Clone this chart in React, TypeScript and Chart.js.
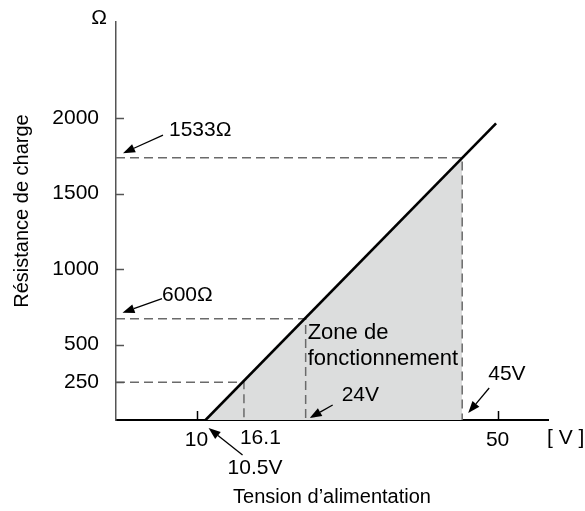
import React, { useEffect, useRef } from "react";
import { Chart, registerables } from "chart.js";

Chart.register(...registerables);

// ---- data ----
const xTickValues = [10, 50];
const yTickValues = [250, 500, 1000, 1500, 2000];
const xRange = [-0.7, 56.7];
const yRange = [0, 2637];
const lineVoltage = [11.2, 49.8];
const lineResistance = [0, 1965];
const markerVoltage = [16.3, 24.5, 45.3];
const markerResistance = [250, 671, 1738];
const voltageLabels = ["10.5V", "16.1", "24V", "45V"];
const resistanceLabels = ["600Ω", "1533Ω"];
const zoneLabel = ["Zone de", "fonctionnement"];
const xTitle = "Tension d’alimentation";
const yTitle = "Résistance de charge";
const xUnit = "[ V ]";
const yUnit = "Ω";

const FONT_FAMILY = '"Liberation Sans", Arial, Helvetica, sans-serif';
const FONT_SIZE = 21;

function drawArrow(ctx: CanvasRenderingContext2D, x1: number, y1: number, x2: number, y2: number) {
  const ang = Math.atan2(y2 - y1, x2 - x1);
  const head = 12;
  const half = 4.5;
  const bx = x2 - head * Math.cos(ang);
  const by = y2 - head * Math.sin(ang);
  ctx.beginPath();
  ctx.moveTo(x1, y1);
  ctx.lineTo(bx, by);
  ctx.lineWidth = 1.3;
  ctx.strokeStyle = "#000";
  ctx.stroke();
  ctx.beginPath();
  ctx.moveTo(x2, y2);
  ctx.lineTo(bx + half * Math.sin(ang), by - half * Math.cos(ang));
  ctx.lineTo(bx - half * Math.sin(ang), by + half * Math.cos(ang));
  ctx.closePath();
  ctx.fillStyle = "#000";
  ctx.fill();
}

const annotationPlugin = {
  id: "annotations",
  afterDraw(chart: any) {
    const { ctx, chartArea } = chart;
    const x = chart.scales.x;
    const y = chart.scales.y;
    const L = chartArea.left;
    const B = chartArea.bottom;
    ctx.save();
    // inward tick marks
    ctx.lineWidth = 1.5;
    ctx.strokeStyle = "#555";
    y.ticks.forEach((t: any) => {
      const py = Math.round(y.getPixelForValue(t.value)) + 0.5;
      ctx.beginPath();
      ctx.moveTo(L, py);
      ctx.lineTo(L + 8, py);
      ctx.stroke();
    });
    ctx.strokeStyle = "#000";
    x.ticks.forEach((t: any) => {
      const px = Math.round(x.getPixelForValue(t.value)) + 0.5;
      ctx.beginPath();
      ctx.moveTo(px, B);
      ctx.lineTo(px, B - 9);
      ctx.stroke();
    });

    ctx.font = `${FONT_SIZE}px ${FONT_FAMILY}`;
    ctx.fillStyle = "#000";
    ctx.textBaseline = "middle";
    ctx.textAlign = "left";

    // resistance annotations
    const y600 = y.getPixelForValue(markerResistance[1]);
    drawArrow(ctx, L + 46, y600 - 20, L + 6.5, y600 - 6);
    ctx.fillText(resistanceLabels[0], L + 46, y600 - 24);

    const y1533 = y.getPixelForValue(markerResistance[2]);
    drawArrow(ctx, L + 47, y1533 - 22.5, L + 7, y1533 - 4.5);
    ctx.fillText(resistanceLabels[1], L + 53, y1533 - 27.5);

    // voltage annotations
    const xs = x.getPixelForValue(lineVoltage[0]);
    drawArrow(ctx, xs + 37, B + 35, xs + 3, B + 8);
    ctx.fillText(voltageLabels[0], xs + 22, B + 48);

    const x16 = x.getPixelForValue(markerVoltage[0]);
    ctx.fillText(voltageLabels[1], x16 - 4, B + 18);

    const x24 = x.getPixelForValue(markerVoltage[1]);
    drawArrow(ctx, x24 + 27, B - 15, x24 + 4, B - 2);
    ctx.fillText(voltageLabels[2], x24 + 36, B - 25);

    const x45 = x.getPixelForValue(markerVoltage[2]);
    drawArrow(ctx, x45 + 27, B - 32, x45 + 6, B - 7);
    ctx.fillText(voltageLabels[3], x45 + 26, B - 46);

    // units
    ctx.fillText(xUnit, chartArea.right - 1, B + 18);

    // zone label
    ctx.font = `22px ${FONT_FAMILY}`;
    ctx.fillText(zoneLabel[0], x24 + 2, B - 87);
    ctx.fillText(zoneLabel[1], x24 + 2, B - 61);

    ctx.font = `${FONT_SIZE}px ${FONT_FAMILY}`;
    ctx.textAlign = "center";
    ctx.fillText(yUnit, L - 17, chartArea.top - 3.5);

    // y-axis title
    ctx.font = `20px ${FONT_FAMILY}`;
    ctx.translate(22, 211);
    ctx.rotate(-Math.PI / 2);
    ctx.fillText(yTitle, 0, 0);
    ctx.restore();
  },
};

export default function App() {
  const canvasRef = useRef<HTMLCanvasElement | null>(null);

  useEffect(() => {
    const canvas = canvasRef.current;
    if (!canvas) return;
    const font = { family: FONT_FAMILY, size: FONT_SIZE };
    const titleFont = { family: FONT_FAMILY, size: 20 };

    const zonePoints = [
      { x: lineVoltage[0], y: lineResistance[0] },
      { x: markerVoltage[2], y: markerResistance[2] },
      { x: markerVoltage[2], y: 0 },
    ];
    const dashedSets = markerVoltage.map((v, i) => ({
      data: [
        { x: xRange[0], y: markerResistance[i] },
        { x: v, y: markerResistance[i] },
        { x: v, y: 0 },
      ],
      borderColor: "#6a6a6a",
      borderWidth: 1.5,
      borderDash: [9, 5],
      pointRadius: 0,
      fill: false,
      order: 1,
    }));

    const chart = new Chart(canvas, {
      type: "line",
      data: {
        datasets: [
          {
            data: lineVoltage.map((v, i) => ({ x: v, y: lineResistance[i] })),
            borderColor: "#000",
            borderWidth: 2.6,
            pointRadius: 0,
            fill: false,
            order: 0,
          },
          ...dashedSets,
          {
            data: zonePoints,
            borderWidth: 0,
            borderColor: "rgba(0,0,0,0)",
            backgroundColor: "#dcdddd",
            pointRadius: 0,
            fill: "origin",
            order: 2,
          },
        ],
      } as any,
      options: {
        animation: false,
        responsive: true,
        maintainAspectRatio: false,
        layout: { padding: { left: 0, top: 22, right: 37, bottom: 0 } },
        plugins: { legend: { display: false }, tooltip: { enabled: false } },
        scales: {
          x: {
            type: "linear",
            min: xRange[0],
            max: xRange[1],
            afterBuildTicks: (s: any) => {
              s.ticks = xTickValues.map((v) => ({ value: v }));
            },
            afterFit: (s: any) => {
              s.height = 91;
              s.paddingLeft = 0;
              s.paddingRight = 0;
            },
            grid: { display: false, drawTicks: false },
            border: { display: true, color: "#000", width: 2 },
            ticks: {
              padding: 8,
              font,
              color: "#000",
              autoSkip: false,
              maxRotation: 0,
              callback: (v: any) => String(v),
            },
            title: { display: true, text: xTitle, font: titleFont, color: "#000", padding: { top: 0, bottom: 2 } },
          },
          y: {
            type: "linear",
            min: yRange[0],
            max: yRange[1],
            afterBuildTicks: (s: any) => {
              s.ticks = yTickValues.map((v) => ({ value: v }));
            },
            afterFit: (s: any) => {
              s.width = 116;
              s.paddingTop = 0;
              s.paddingBottom = 0;
            },
            grid: { display: false, drawTicks: false },
            border: { display: true, color: "#555", width: 1.5 },
            ticks: { padding: 17, font, color: "#000", autoSkip: false, callback: (v: any) => String(v) },
            title: { display: false },
          },
        },
      } as any,
      plugins: [annotationPlugin],
    });
    return () => chart.destroy();
  }, []);

  return (
    <div style={{ position: "fixed", left: 0, top: 0, width: 585, height: 511, background: "#fff" }}>
      <canvas ref={canvasRef} />
    </div>
  );
}
